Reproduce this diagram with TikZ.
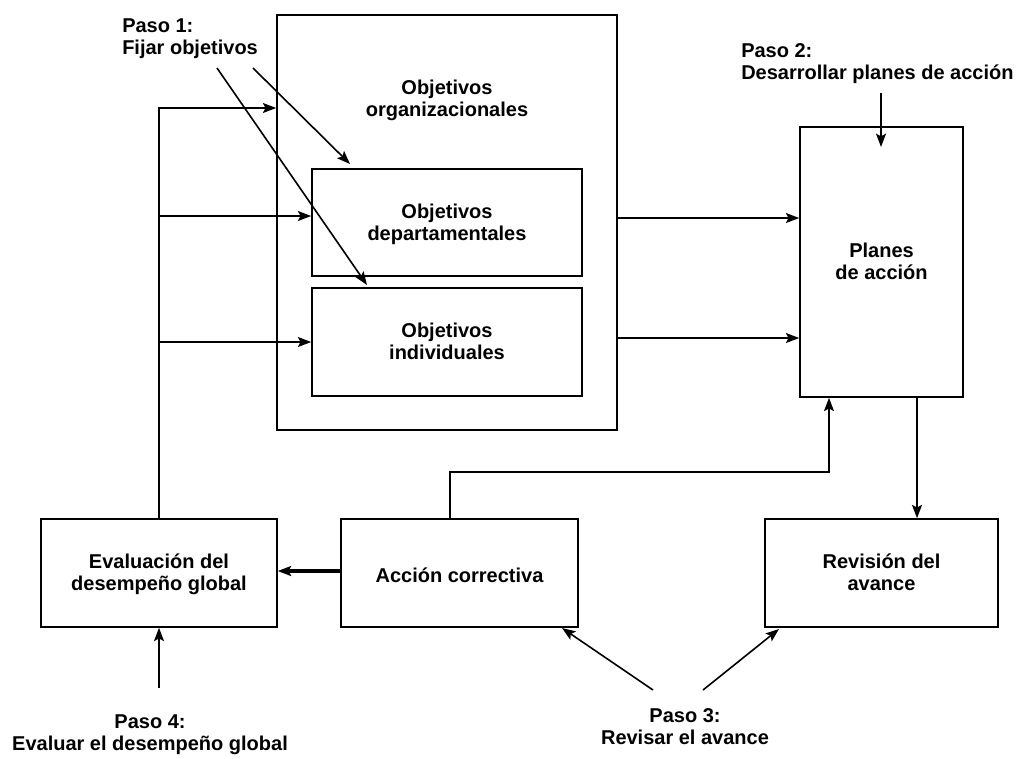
\documentclass[tikz,border=0pt]{standalone}
\usepackage{fontspec}
\setmainfont{Liberation Sans}
\usetikzlibrary{arrows.meta,fit}
\newcommand{\lineC}[1]{\begin{tabular}[t]{@{}c@{}}#1\end{tabular}}
\newcommand{\lineL}[1]{\begin{tabular}[t]{@{}l@{}}#1\end{tabular}}
\begin{document}
\begin{tikzpicture}[x=0.75pt,y=-0.75pt,
  lbl/.style={inner sep=0pt, anchor=base, font=\bfseries\fontsize{15}{16.5}\selectfont},
  lbll/.style={lbl, anchor=base west},
  box/.style={draw, line width=1.2pt, inner sep=0pt},
  conn/.style={line width=1.2pt, -{Stealth[length=10pt,width=7.5pt,inset=2pt]}},
  thickconn/.style={conn, line width=2.4pt}]
\useasboundingbox (0,0) rectangle (1016,758);

% boxes
\node[box, fit={(277,15) (617,430)}] (org) {};
\node[box, fit={(312,169) (582,276)}] (dep) {};
\node[box, fit={(312,288) (582,396)}] (ind) {};
\node[box, fit={(800,127) (963,397)}] (plan) {};
\node[box, fit={(41,519) (277,627)}] (eval) {};
\node[box, fit={(341,519) (578,627)}] (acc) {};
\node[box, fit={(765,519) (998,627)}] (rev) {};

% box texts (placed at first baseline)
\node[lbl] (orgt)  at (447,94)    {\lineC{Objetivos\\organizacionales}};
\node[lbl] (dept)  at (447,218)   {\lineC{Objetivos\\departamentales}};
\node[lbl] (indt)  at (447,337.5) {\lineC{Objetivos\\individuales}};
\node[lbl] (plant) at (881.5,257.5) {\lineC{Planes\\de acción}};
\node[lbl] (evalt) at (159,568)   {\lineC{Evaluación del\\desempeño global}};
\node[lbl] (acct)  at (459.5,582) {Acción correctiva};
\node[lbl] (revt)  at (881.5,568) {\lineC{Revisión del\\avance}};

% step labels
\node[lbll] (p1) at (122,32)  {\lineL{Paso 1:\\Fijar objetivos}};
\node[lbll] (p2) at (741,57)  {\lineL{Paso 2:\\Desarrollar planes de acción}};
\node[lbl]  (p3) at (685,722) {\lineC{Paso 3:\\Revisar el avance}};
\node[lbl]  (p4) at (150,728) {\lineC{Paso 4:\\Evaluar el desempeño global}};

% free ends
\coordinate (p1a) at (217,68);  \coordinate (p1ae) at (367,285);
\coordinate (p1b) at (253,68);  \coordinate (p1be) at (350,164);
\coordinate (p2a) at (881,93);  \coordinate (p2ae) at (881,147);
\coordinate (p3a) at (653,690); \coordinate (p3ae) at (562,628);
\coordinate (p3b) at (703,690); \coordinate (p3be) at (779,629);
\coordinate (p4a) at (159,688);
\coordinate (fb1) at (159,108);
\coordinate (fb2) at (159,216);
\coordinate (rr) at (617,218);
\coordinate (rr2) at (617,338);
\coordinate (pr) at (917,0);
\coordinate (c1) at (450,472);
\coordinate (c2) at (829,472);
\coordinate (ae) at (0,571);

% step arrows
\draw[conn] (p1a) -- (p1ae);
\draw[conn] (p1b) -- (p1be);
\draw[conn] (p2a) -- (p2ae);
\draw[conn] (p3a) -- (p3ae);
\draw[conn] (p3b) -- (p3be);
\draw[conn] (p4a) -- (eval.south);

% feedback from evaluation
\draw[conn] (eval.north) -- (fb1) -- (fb1 -| org.west);
\draw[conn] (fb2) -- (fb2 -| dep.west);
\draw[conn] (eval.north |- ind.west) -- (ind.west);

% objectives to plans
\draw[conn] (rr) -- (rr -| plan.west);
\draw[conn] (rr2) -- (rr2 -| plan.west);

% plans to review
\draw[conn] (plan.south -| pr) -- (rev.north -| pr);

% corrective action loop
\draw[conn] (acc.north -| c1) -- (c1) -- (c2) -- (plan.south -| c2);
\draw[thickconn] (acc.west |- ae) -- (eval.east |- ae);
\end{tikzpicture}
\end{document}
